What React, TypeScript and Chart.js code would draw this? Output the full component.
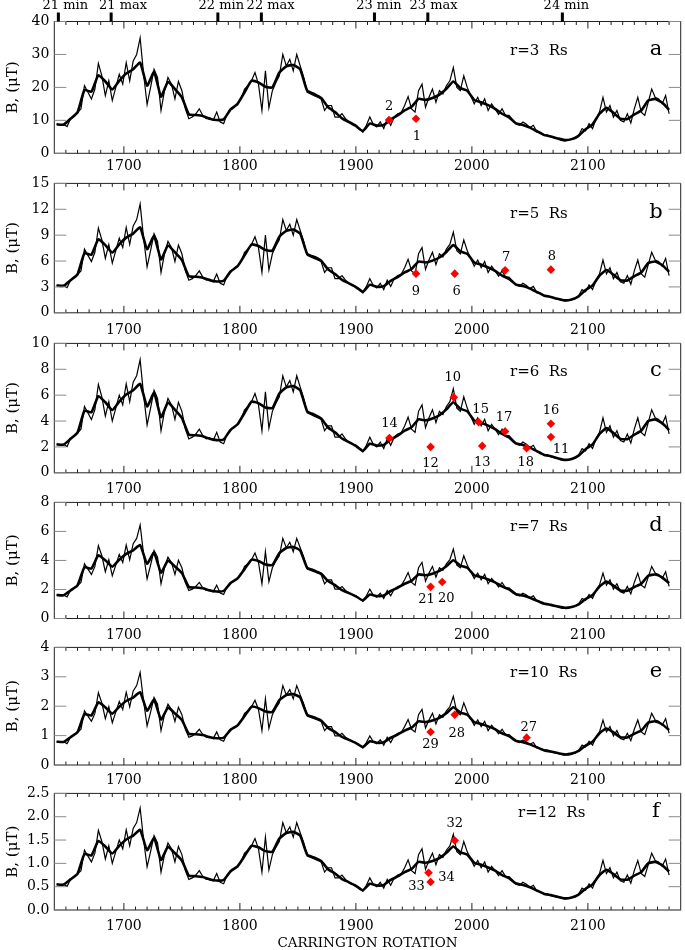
import React, { useEffect, useRef } from "react";
import { Chart, registerables } from "chart.js";
Chart.register(...registerables);

const FONT = '"DejaVu Serif", serif';

// ---------- data ----------
const X_MIN = 1640;
const X_MAX = 2180;
const X_MAJOR = 100;
const X_MINOR = 10;
const CR_START = 1642;
const THIN_STEP = 3;
const THICK_STEP = 6;

// B at r = 3 Rs (microtesla), thin curve, every 3 rotations from CR 1642
const bThinR3 = [
  8.8, 8.7, 8.8, 8.1, 10.5, 11.5, 12.3, 13.5, 20.5, 18.5,
  16.5, 19.5, 27.3, 23.5, 17.5, 22, 16, 20, 24, 21,
  27.5, 22, 28, 30, 35, 24, 14.8, 20, 25.5, 23,
  13, 19, 23, 21, 16.5, 21.8, 19, 13.5, 10.5, 11,
  12, 13.5, 11.5, 10.5, 10.8, 10, 12.5, 9.5, 9.0, 12,
  13.5, 14, 15, 16.5, 19.5, 20.5, 22, 24.5, 21, 13,
  25, 13.8, 19, 21.5, 23.5, 30, 26.5, 28.5, 25, 30,
  26.5, 23, 18.5, 18, 17.5, 17, 16.5, 13, 14.5, 14.5,
  11, 11, 12, 10.5, 9.5, 9, 8.5, 7.5, 6.4, 8.5,
  11, 8.8, 8, 9.5, 7.5, 10.5, 8.5, 11, 12, 12.3,
  14.5, 17.2, 13.5, 12.5, 19, 21, 14, 17, 19.5, 15.5,
  19, 18, 20.5, 22, 26, 20, 19, 23.5, 20, 17.5,
  15, 17, 14.5, 16.5, 13, 15, 13.5, 11.8, 13.5, 11.5,
  11.5, 10.3, 9, 8.5, 9.5, 8.8, 7.8, 8.5, 6.5, 6.3,
  5.5, 5.6, 5, 4.7, 4.5, 4.0, 3.8, 4.0, 4.3, 4.5,
  5.5, 7.5, 6.8, 9, 7.5, 10.5, 12.5, 17, 12.5, 14.5,
  11, 13, 10, 9.5, 12, 9.2, 13.5, 17, 12.5, 11.5,
  15.5, 19.5, 17, 16.5, 15, 17.5, 12,
];

// B at r = 3 Rs, thick (smoothed) curve, every 6 rotations from CR 1642
const bThickR3 = [
  8.8, 8.7, 10.5, 12.4, 19.2, 18.7, 23.7, 21.8, 19.4, 22,
  24.2, 25.5, 27.5, 20.5, 24.7, 17.2, 21.7, 19.5, 17, 11.8,
  11.6, 11.3, 10.5, 10.1, 10.3, 13.3, 15, 18.5, 22, 21.5,
  20.2, 20, 24.5, 26.4, 26.8, 25.5, 19, 18, 16.8, 14,
  12.5, 10.6, 9.5, 8.3, 6.8, 9.0, 8.4, 8.6, 10.3, 11.5,
  13, 14.1, 16.5, 16.2, 16.8, 17.8, 19.6, 21.8, 19.8, 19,
  16.2, 15.5, 14.6, 13.5, 12, 10.9, 9.1, 8.6, 7.8, 6.7,
  5.6, 5.1, 4.5, 4.0, 4.3, 5.3, 7.3, 8.8, 12, 13.8,
  12.3, 10.5, 10.4, 11.8, 13, 16, 16.5, 15.4, 13.2,
];

const panelLetters = ["a", "b", "c", "d", "e", "f"];
const panelRadiusText = ["r=3  Rs", "r=5  Rs", "r=6  Rs", "r=7  Rs", "r=10  Rs", "r=12  Rs"];
// ratio of each panel's curve to the r=3 curve, as read from the peaks
const panelScale = [1, 0.36, 0.25, 0.184, 0.09, 0.0625];
const yMaxes = [40, 15, 10, 8, 4, 2.5];
const ySteps = [10, 3, 2, 2, 1, 0.5];
const yDecimals = [0, 0, 0, 0, 0, 1];

const cycleLabels = ["21 min", "21 max", "22 min", "22 max", "23 min", "23 max", "24 min"];
const cycleCR = [1643.5, 1689, 1781, 1818.5, 1916, 1962, 2078];

const markerCR = [
  [1928.6, 1951.8],
  [1951.8, 1985.2, 2028.6, 2068.1],
  [1984.4, 1928.9, 1964.4, 2005.8, 2008.9, 2028.6, 2047.2, 2068.1, 2068.1],
  [1964.4, 1974.4],
  [1964.4, 1985.2, 2047.2],
  [1985.2, 1962.6, 1964.4],
];
const markerB = [
  [10.1, 10.5],
  [4.54, 4.54, 4.92, 5.0],
  [5.83, 2.69, 2.0, 3.92, 2.08, 3.2, 1.9, 3.79, 2.77],
  [2.18, 2.52],
  [1.12, 1.71, 0.93],
  [1.49, 0.8, 0.6],
];
const markerIds = [
  ["2", "1"],
  ["9", "6", "7", "8"],
  ["10", "14", "12", "15", "13", "17", "18", "16", "11"],
  ["21", "20"],
  ["29", "28", "27"],
  ["32", "34", "33"],
];

// ---------- styles / layout ----------
const markerLabelOffsets = [
  [[0, -13], [1, 18]],
  [[0, 18], [2, 18], [1, -13], [1, -13]],
  [[-1, -20], [0, -14], [0, 17], [2, -12], [0, 17], [-1, -14], [-1, 14], [0, -13], [10, 13]],
  [[-4, 13], [4, 17]],
  [[0, 13], [2, 19], [2, -10]],
  [[0, -17], [18, 5], [-14, 5]],
];
const cycleLabelDx = [7, 12, 3.5, 9.3, 4.5, 5.7, 4];
const chartTops = [21.5, 182.3, 342.3, 501.7, 646.5, 792.6];
const chartBottoms = [153.3, 312.8, 472.8, 618.5, 765, 910];
const canvasTops = [0, 170, 330, 489, 634, 780];
const xAxisHeights = [28, 28, 28, 28, 28, 40];
const xLabelPads = [5, 9, 8.6, 8, 6.6, 8.3];
const titleX = [510, 510, 510, 510, 510, 518];
const titleBaseline = [33, 34.4, 32.3, 28.5, 29.8, 23.2];
const LEFT = 54.3;
const RIGHT = 683.7;
const W = 685;

function decorPlugin(i: number) {
  return {
    id: "decor" + i,
    afterDatasetsDraw(chart: any) {
      const { ctx, chartArea, scales } = chart;
      const { left, right, top, bottom } = chartArea;
      const x = scales.x;
      const y = scales.y;
      ctx.save();
      // frame
      ctx.strokeStyle = "#222";
      ctx.lineWidth = 1;
      ctx.strokeRect(left, top, right - left, bottom - top);
      // x ticks, inward, top and bottom
      ctx.beginPath();
      for (let v = X_MIN + X_MINOR; v < X_MAX; v += X_MINOR) {
        const px = x.getPixelForValue(v);
        const len = v % X_MAJOR === 0 ? 7 : 3.5;
        ctx.moveTo(px, bottom);
        ctx.lineTo(px, bottom - len);
        ctx.moveTo(px, top);
        ctx.lineTo(px, top + len);
      }
      ctx.stroke();
      // y ticks, inward, left and right
      ctx.strokeStyle = "#8a8a8a";
      ctx.beginPath();
      for (const t of y.ticks) {
        const py = y.getPixelForValue(t.value);
        ctx.moveTo(left, py);
        ctx.lineTo(left + 12, py);
        ctx.moveTo(right, py);
        ctx.lineTo(right - 12, py);
      }
      ctx.stroke();
      // marker labels
      ctx.fillStyle = "#000";
      ctx.font = `13px ${FONT}`;
      ctx.textAlign = "center";
      ctx.textBaseline = "middle";
      markerIds[i].forEach((id, k) => {
        const off = markerLabelOffsets[i][k];
        const px = x.getPixelForValue(markerCR[i][k]) + off[0];
        const py = y.getPixelForValue(markerB[i][k]) + off[1];
        ctx.fillText(id, px, py);
      });
      // radius text and panel letter
      ctx.textBaseline = "alphabetic";
      ctx.textAlign = "left";
      ctx.font = `15px ${FONT}`;
      ctx.fillText(panelRadiusText[i], titleX[i], top + titleBaseline[i]);
      ctx.textAlign = "center";
      ctx.font = `21px ${FONT}`;
      ctx.fillText(panelLetters[i], 656, top + titleBaseline[i]);
      // solar cycle markers above first panel
      if (i === 0) {
        ctx.font = `13px ${FONT}`;
        ctx.textBaseline = "middle";
        cycleCR.forEach((cr, k) => {
          const px = x.getPixelForValue(cr);
          ctx.fillRect(px - 1.5, top - 9, 3, 9);
          ctx.fillText(cycleLabels[k], px + cycleLabelDx[k], 5.5);
        });
      }
      ctx.restore();
    },
  };
}

function buildConfig(i: number, height: number): any {
  const s = panelScale[i];
  const thin = bThinR3.map((v, k) => ({ x: CR_START + k * THIN_STEP, y: v * s }));
  const thick = bThickR3.map((v, k) => ({ x: CR_START + k * THICK_STEP, y: v * s }));
  const markers = markerCR[i].map((c, k) => ({ x: c, y: markerB[i][k] }));
  const padTop = chartTops[i] - canvasTops[i];
  const areaBottom = chartBottoms[i] - canvasTops[i];
  const xH = height - areaBottom;
  return {
    type: "line",
    data: {
      datasets: [
        { data: thin, borderColor: "#000", borderWidth: 1.2, pointRadius: 0, tension: 0, order: 3 },
        { data: thick, borderColor: "#000", borderWidth: 2.6, pointRadius: 0, tension: 0.15, order: 2 },
        {
          data: markers,
          showLine: false,
          pointStyle: "rectRot",
          pointRadius: 4.3,
          backgroundColor: "#ff0000",
          borderColor: "#ff0000",
          borderWidth: 0,
          order: 1,
        },
      ],
    },
    options: {
      animation: false,
      responsive: false,
      devicePixelRatio: 1,
      layout: { padding: { top: padTop, right: W - RIGHT, left: 0, bottom: 0 } },
      plugins: { legend: { display: false }, tooltip: { enabled: false } },
      scales: {
        x: {
          type: "linear",
          position: "bottom",
          min: X_MIN,
          max: X_MAX,
          grid: { display: false, drawTicks: false },
          border: { display: false },
          ticks: {
            stepSize: X_MAJOR,
            includeBounds: false,
            autoSkip: false,
            maxRotation: 0,
            padding: xLabelPads[i],
            color: "#000",
            font: { family: FONT, size: 14 },
            callback: (v: any) => String(v),
          },
          title:
            i === 5
              ? {
                  display: true,
                  text: "CARRINGTON ROTATION",
                  color: "#000",
                  font: { family: FONT, size: 13.5 },
                  padding: { top: 0, bottom: -2 },
                }
              : { display: false },
          afterFit: (sc: any) => {
            sc.height = xH;
          },
        },
        y: {
          min: 0,
          max: yMaxes[i],
          grid: { display: false, drawTicks: false },
          border: { display: false },
          ticks: {
            stepSize: ySteps[i],
            padding: 5,
            color: "#000",
            font: { family: FONT, size: 14 },
            callback: (v: any) => (yDecimals[i] ? Number(v).toFixed(1) : String(v)),
          },
          title: {
            display: true,
            text: "B, (μT)",
            color: "#000",
            font: { family: FONT, size: 15 },
            padding: { top: 4, bottom: 4 },
          },
          afterFit: (sc: any) => {
            sc.width = LEFT;
          },
        },
      },
    },
    plugins: [decorPlugin(i)],
  };
}

function Panel({ i }: { i: number }) {
  const ref = useRef<HTMLCanvasElement>(null);
  const top = canvasTops[i];
  const height = Math.ceil(chartBottoms[i] - top + xAxisHeights[i]);
  useEffect(() => {
    const chart = new Chart(ref.current as HTMLCanvasElement, buildConfig(i, height));
    return () => chart.destroy();
  }, [i, height]);
  return (
    <canvas
      ref={ref}
      width={W}
      height={height}
      style={{ position: "absolute", left: 0, top, width: W, height }}
    />
  );
}

export default function App() {
  return (
    <div
      style={{
        position: "absolute",
        left: 0,
        top: 0,
        width: W,
        height: 950,
        overflow: "hidden",
        background: "#fff",
      }}
    >
      {[0, 1, 2, 3, 4, 5].map((i) => (
        <Panel key={i} i={i} />
      ))}
    </div>
  );
}
